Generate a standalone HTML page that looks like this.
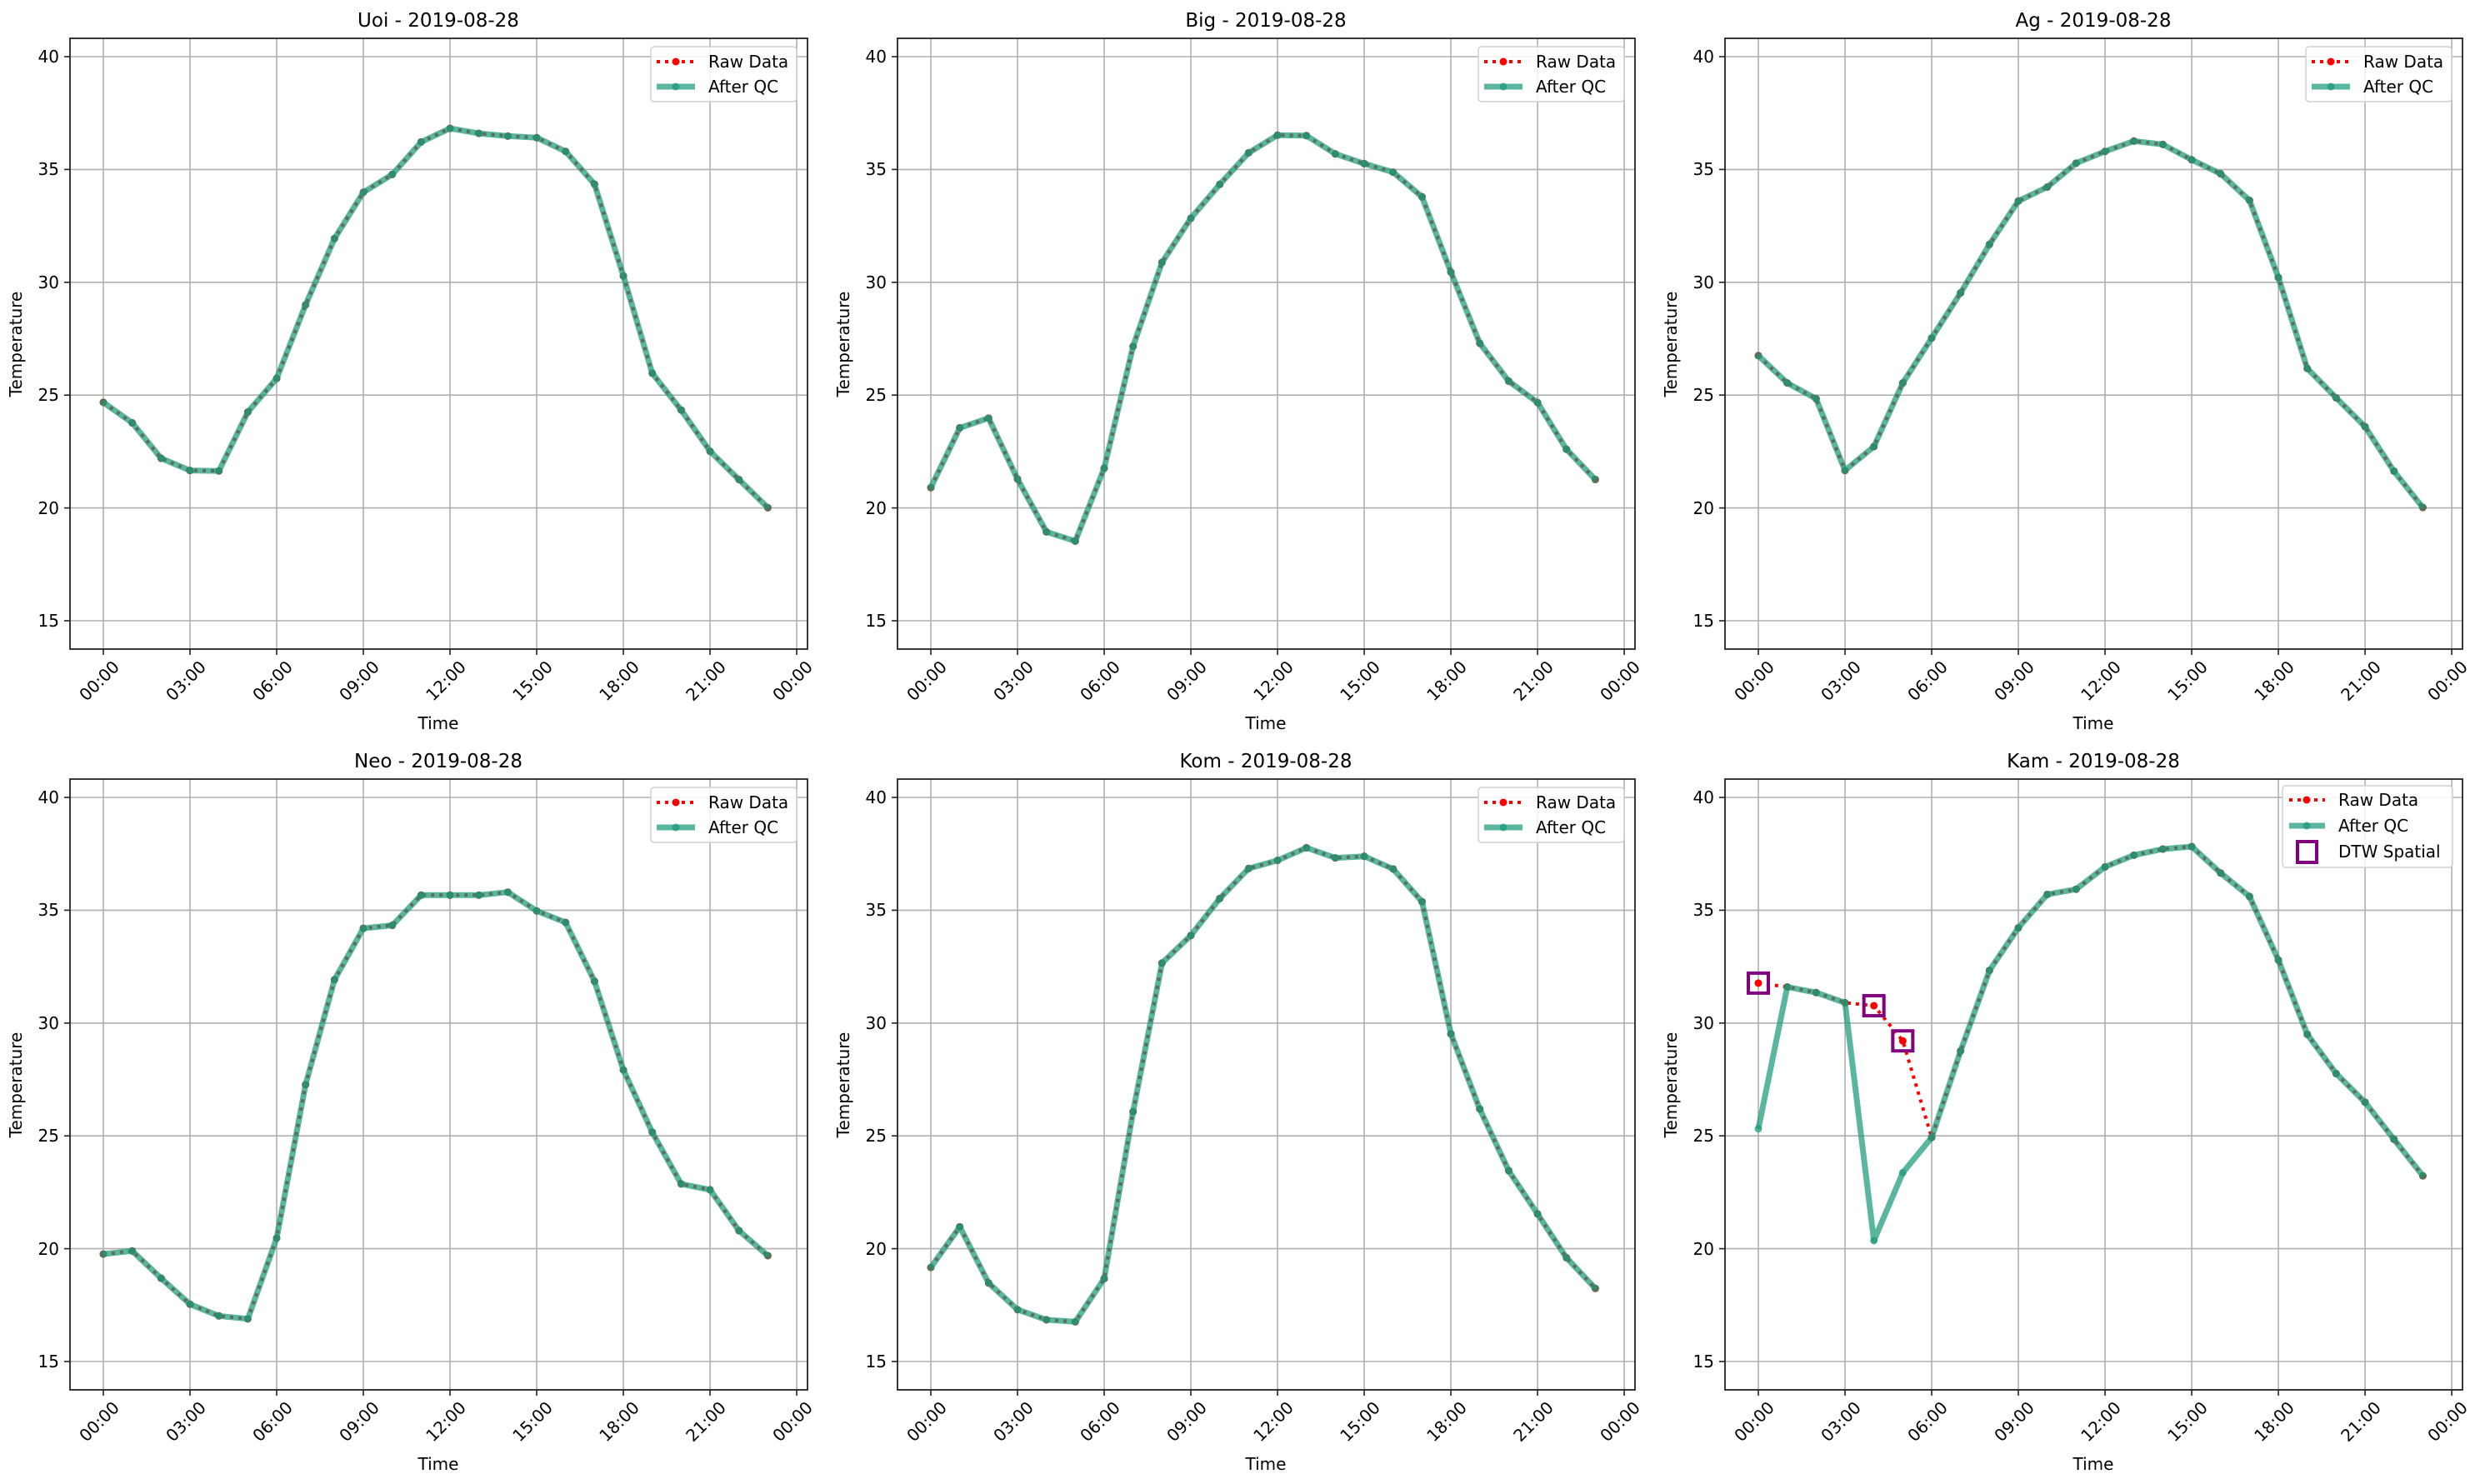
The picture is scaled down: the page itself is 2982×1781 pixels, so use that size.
<!DOCTYPE html>
<html><head><meta charset="utf-8"><style>
html,body{margin:0;padding:0;background:#fff}
svg{display:block}
text{font-family:"DejaVu Sans","Liberation Sans",sans-serif;fill:#000}
</style></head><body>
<svg id="s" width="2982" height="1781" viewBox="0 0 2982 1781" xmlns="http://www.w3.org/2000/svg">
<rect width="2982" height="1781" fill="#fff"/>
<g id="p0" transform="translate(84,46)"><g class="geo"></g>
<text x="442" y="-14" font-size="23" text-anchor="middle">Uoi - 2019-08-28</text>
<g class="yt" font-size="20" text-anchor="end"><text x="-13" y="29">40</text><text x="-13" y="164">35</text><text x="-13" y="300">30</text><text x="-13" y="435">25</text><text x="-13" y="571">20</text><text x="-13" y="706">15</text></g>
<text transform="translate(-58,367) rotate(-90)" font-size="20" text-anchor="middle">Temperature</text>
<text x="442" y="829" font-size="20" text-anchor="middle">Time</text>
<g class="xt" font-size="20" text-anchor="middle"><text transform="translate(40,776) rotate(-45)">00:00</text><text transform="translate(144,776) rotate(-45)">03:00</text><text transform="translate(248,776) rotate(-45)">06:00</text><text transform="translate(352,776) rotate(-45)">09:00</text><text transform="translate(456,776) rotate(-45)">12:00</text><text transform="translate(560,776) rotate(-45)">15:00</text><text transform="translate(664,776) rotate(-45)">18:00</text><text transform="translate(768,776) rotate(-45)">21:00</text><text transform="translate(872,776) rotate(-45)">00:00</text></g>
<g class="lg"><text x="766" y="35" font-size="20">Raw Data</text><text x="766" y="65" font-size="20">After QC</text></g>
</g>
<g id="p1" transform="translate(1077,46)"><g class="geo"></g>
<text x="442" y="-14" font-size="23" text-anchor="middle">Big - 2019-08-28</text>
<g class="yt" font-size="20" text-anchor="end"><text x="-13" y="29">40</text><text x="-13" y="164">35</text><text x="-13" y="300">30</text><text x="-13" y="435">25</text><text x="-13" y="571">20</text><text x="-13" y="706">15</text></g>
<text transform="translate(-58,367) rotate(-90)" font-size="20" text-anchor="middle">Temperature</text>
<text x="442" y="829" font-size="20" text-anchor="middle">Time</text>
<g class="xt" font-size="20" text-anchor="middle"><text transform="translate(40,776) rotate(-45)">00:00</text><text transform="translate(144,776) rotate(-45)">03:00</text><text transform="translate(248,776) rotate(-45)">06:00</text><text transform="translate(352,776) rotate(-45)">09:00</text><text transform="translate(456,776) rotate(-45)">12:00</text><text transform="translate(560,776) rotate(-45)">15:00</text><text transform="translate(664,776) rotate(-45)">18:00</text><text transform="translate(768,776) rotate(-45)">21:00</text><text transform="translate(872,776) rotate(-45)">00:00</text></g>
<g class="lg"><text x="766" y="35" font-size="20">Raw Data</text><text x="766" y="65" font-size="20">After QC</text></g>
</g>
<g id="p2" transform="translate(2070,46)"><g class="geo"></g>
<text x="442" y="-14" font-size="23" text-anchor="middle">Ag - 2019-08-28</text>
<g class="yt" font-size="20" text-anchor="end"><text x="-13" y="29">40</text><text x="-13" y="164">35</text><text x="-13" y="300">30</text><text x="-13" y="435">25</text><text x="-13" y="571">20</text><text x="-13" y="706">15</text></g>
<text transform="translate(-58,367) rotate(-90)" font-size="20" text-anchor="middle">Temperature</text>
<text x="442" y="829" font-size="20" text-anchor="middle">Time</text>
<g class="xt" font-size="20" text-anchor="middle"><text transform="translate(40,776) rotate(-45)">00:00</text><text transform="translate(144,776) rotate(-45)">03:00</text><text transform="translate(248,776) rotate(-45)">06:00</text><text transform="translate(352,776) rotate(-45)">09:00</text><text transform="translate(456,776) rotate(-45)">12:00</text><text transform="translate(560,776) rotate(-45)">15:00</text><text transform="translate(664,776) rotate(-45)">18:00</text><text transform="translate(768,776) rotate(-45)">21:00</text><text transform="translate(872,776) rotate(-45)">00:00</text></g>
<g class="lg"><text x="766" y="35" font-size="20">Raw Data</text><text x="766" y="65" font-size="20">After QC</text></g>
</g>
<g id="p3" transform="translate(84,935)"><g class="geo"></g>
<text x="442" y="-14" font-size="23" text-anchor="middle">Neo - 2019-08-28</text>
<g class="yt" font-size="20" text-anchor="end"><text x="-13" y="29">40</text><text x="-13" y="164">35</text><text x="-13" y="300">30</text><text x="-13" y="435">25</text><text x="-13" y="571">20</text><text x="-13" y="706">15</text></g>
<text transform="translate(-58,367) rotate(-90)" font-size="20" text-anchor="middle">Temperature</text>
<text x="442" y="829" font-size="20" text-anchor="middle">Time</text>
<g class="xt" font-size="20" text-anchor="middle"><text transform="translate(40,776) rotate(-45)">00:00</text><text transform="translate(144,776) rotate(-45)">03:00</text><text transform="translate(248,776) rotate(-45)">06:00</text><text transform="translate(352,776) rotate(-45)">09:00</text><text transform="translate(456,776) rotate(-45)">12:00</text><text transform="translate(560,776) rotate(-45)">15:00</text><text transform="translate(664,776) rotate(-45)">18:00</text><text transform="translate(768,776) rotate(-45)">21:00</text><text transform="translate(872,776) rotate(-45)">00:00</text></g>
<g class="lg"><text x="766" y="35" font-size="20">Raw Data</text><text x="766" y="65" font-size="20">After QC</text></g>
</g>
<g id="p4" transform="translate(1077,935)"><g class="geo"></g>
<text x="442" y="-14" font-size="23" text-anchor="middle">Kom - 2019-08-28</text>
<g class="yt" font-size="20" text-anchor="end"><text x="-13" y="29">40</text><text x="-13" y="164">35</text><text x="-13" y="300">30</text><text x="-13" y="435">25</text><text x="-13" y="571">20</text><text x="-13" y="706">15</text></g>
<text transform="translate(-58,367) rotate(-90)" font-size="20" text-anchor="middle">Temperature</text>
<text x="442" y="829" font-size="20" text-anchor="middle">Time</text>
<g class="xt" font-size="20" text-anchor="middle"><text transform="translate(40,776) rotate(-45)">00:00</text><text transform="translate(144,776) rotate(-45)">03:00</text><text transform="translate(248,776) rotate(-45)">06:00</text><text transform="translate(352,776) rotate(-45)">09:00</text><text transform="translate(456,776) rotate(-45)">12:00</text><text transform="translate(560,776) rotate(-45)">15:00</text><text transform="translate(664,776) rotate(-45)">18:00</text><text transform="translate(768,776) rotate(-45)">21:00</text><text transform="translate(872,776) rotate(-45)">00:00</text></g>
<g class="lg"><text x="766" y="35" font-size="20">Raw Data</text><text x="766" y="65" font-size="20">After QC</text></g>
</g>
<g id="p5" transform="translate(2070,935)"><g class="geo"></g>
<text x="442" y="-14" font-size="23" text-anchor="middle">Kam - 2019-08-28</text>
<g class="yt" font-size="20" text-anchor="end"><text x="-13" y="29">40</text><text x="-13" y="164">35</text><text x="-13" y="300">30</text><text x="-13" y="435">25</text><text x="-13" y="571">20</text><text x="-13" y="706">15</text></g>
<text transform="translate(-58,367) rotate(-90)" font-size="20" text-anchor="middle">Temperature</text>
<text x="442" y="829" font-size="20" text-anchor="middle">Time</text>
<g class="xt" font-size="20" text-anchor="middle"><text transform="translate(40,776) rotate(-45)">00:00</text><text transform="translate(144,776) rotate(-45)">03:00</text><text transform="translate(248,776) rotate(-45)">06:00</text><text transform="translate(352,776) rotate(-45)">09:00</text><text transform="translate(456,776) rotate(-45)">12:00</text><text transform="translate(560,776) rotate(-45)">15:00</text><text transform="translate(664,776) rotate(-45)">18:00</text><text transform="translate(768,776) rotate(-45)">21:00</text><text transform="translate(872,776) rotate(-45)">00:00</text></g>
<g class="lg"><text x="736" y="32" font-size="20">Raw Data</text><text x="736" y="63" font-size="20">After QC</text><text x="736" y="94" font-size="20">DTW Spatial</text></g>
</g>
</svg>
<script>
var W=885,H=733;
function px(h){return 40+34.67*h}
function py(v){return 22+(40-v)*27.08}
var D=[
[24.68,23.77,22.2,21.66,21.64,24.25,25.74,29.0,31.94,33.99,34.78,36.22,36.82,36.6,36.48,36.41,35.8,34.35,30.28,25.97,24.34,22.51,21.26,20.01],
[20.9,23.55,23.98,21.28,18.94,18.53,21.76,27.16,30.88,32.84,34.34,35.74,36.52,36.5,35.69,35.26,34.88,33.79,30.45,27.3,25.62,24.67,22.6,21.26],
[26.75,25.54,24.84,21.66,22.72,25.54,27.53,29.53,31.68,33.6,34.22,35.28,35.8,36.26,36.11,35.43,34.81,33.63,30.21,26.18,24.88,23.6,21.63,20.02],
[19.76,19.9,18.69,17.54,17.02,16.89,20.47,27.27,31.92,34.2,34.33,35.67,35.67,35.67,35.8,34.97,34.46,31.85,27.92,25.16,22.87,22.61,20.8,19.69],
[19.17,20.97,18.48,17.3,16.85,16.76,18.67,26.07,32.66,33.88,35.52,36.85,37.21,37.77,37.32,37.39,36.83,35.38,29.52,26.19,23.46,21.54,19.6,18.24],
[25.31,31.6,31.35,30.9,20.36,23.37,24.93,28.76,32.33,34.22,35.7,35.93,36.92,37.44,37.71,37.82,36.65,35.61,32.79,29.5,27.76,26.49,24.85,23.23]];
var RAWK=D[5].slice();RAWK[0]=31.77;RAWK[4]=30.77;RAWK[5]=29.21;
var G="#1b9a78";
for(var p=0;p<6;p++){
 var g=document.querySelector('#p'+p+' .geo'),s='';
 s+='<rect x="0" y="0" width="'+W+'" height="'+H+'" fill="#fff"/>';
 for(var i=0;i<=8;i++){var x=px(3*i);s+='<line x1="'+x+'" y1="0" x2="'+x+'" y2="'+H+'" stroke="#b0b0b0" stroke-width="1.6"/><line x1="'+x+'" y1="'+H+'" x2="'+x+'" y2="'+(H+7)+'" stroke="#222" stroke-width="1.6"/>';}
 for(var v=15;v<=40;v+=5){var y=py(v);s+='<line x1="0" y1="'+y+'" x2="'+W+'" y2="'+y+'" stroke="#b0b0b0" stroke-width="1.6"/><line x1="-7" y1="'+y+'" x2="0" y2="'+y+'" stroke="#222" stroke-width="1.6"/>';}
 var raw=p==5?RAWK:D[p],qc=D[p];
 var rp=raw.map(function(v,h){return px(h).toFixed(1)+','+py(v).toFixed(1)}).join(' ');
 var qp=qc.map(function(v,h){return px(h).toFixed(1)+','+py(v).toFixed(1)}).join(' ');
 s+='<polyline points="'+rp+'" fill="none" stroke="#f00" stroke-width="4" stroke-dasharray="4,6"/>';
 raw.forEach(function(v,h){s+='<circle cx="'+px(h)+'" cy="'+py(v)+'" r="4.5" fill="#f00"/>';});
 s+='<polyline points="'+qp+'" fill="none" stroke="'+G+'" stroke-opacity="0.72" stroke-width="7" stroke-linejoin="round"/>';
 qc.forEach(function(v,h){s+='<circle cx="'+px(h)+'" cy="'+py(v)+'" r="4.5" fill="'+G+'" fill-opacity="0.72"/>';});
 if(p==5){[0,4,5].forEach(function(h){s+='<rect x="'+(px(h)-12)+'" y="'+(py(RAWK[h])-12)+'" width="24" height="24" fill="none" stroke="#800080" stroke-width="4"/>';});}
 s+='<rect x="0" y="0" width="'+W+'" height="'+H+'" fill="none" stroke="#222" stroke-width="1.8"/>';
 if(p<5){
  s+='<rect x="697" y="10" width="175" height="66" rx="4" fill="#fff" fill-opacity="0.85" stroke="#d0d0d0" stroke-width="1.5"/>';
  s+='<line x1="704" y1="28" x2="750" y2="28" stroke="#f00" stroke-width="4" stroke-dasharray="4,6"/><circle cx="727" cy="28" r="4.5" fill="#f00"/>';
  s+='<line x1="704" y1="58" x2="750" y2="58" stroke="'+G+'" stroke-opacity="0.72" stroke-width="7"/><circle cx="727" cy="58" r="4.5" fill="'+G+'" fill-opacity="0.72"/>';
 } else {
  s+='<rect x="669" y="8" width="204" height="98" rx="4" fill="#fff" fill-opacity="0.85" stroke="#d0d0d0" stroke-width="1.5"/>';
  s+='<line x1="677" y1="25" x2="720" y2="25" stroke="#f00" stroke-width="4" stroke-dasharray="4,6"/><circle cx="698" cy="25" r="4.5" fill="#f00"/>';
  s+='<line x1="677" y1="56" x2="720" y2="56" stroke="'+G+'" stroke-opacity="0.72" stroke-width="7"/><circle cx="698" cy="56" r="4.5" fill="'+G+'" fill-opacity="0.72"/>';
  s+='<rect x="687" y="75" width="23" height="25" fill="none" stroke="#800080" stroke-width="4"/>';
 }
 g.innerHTML=s;
}
</script>
</body></html>
